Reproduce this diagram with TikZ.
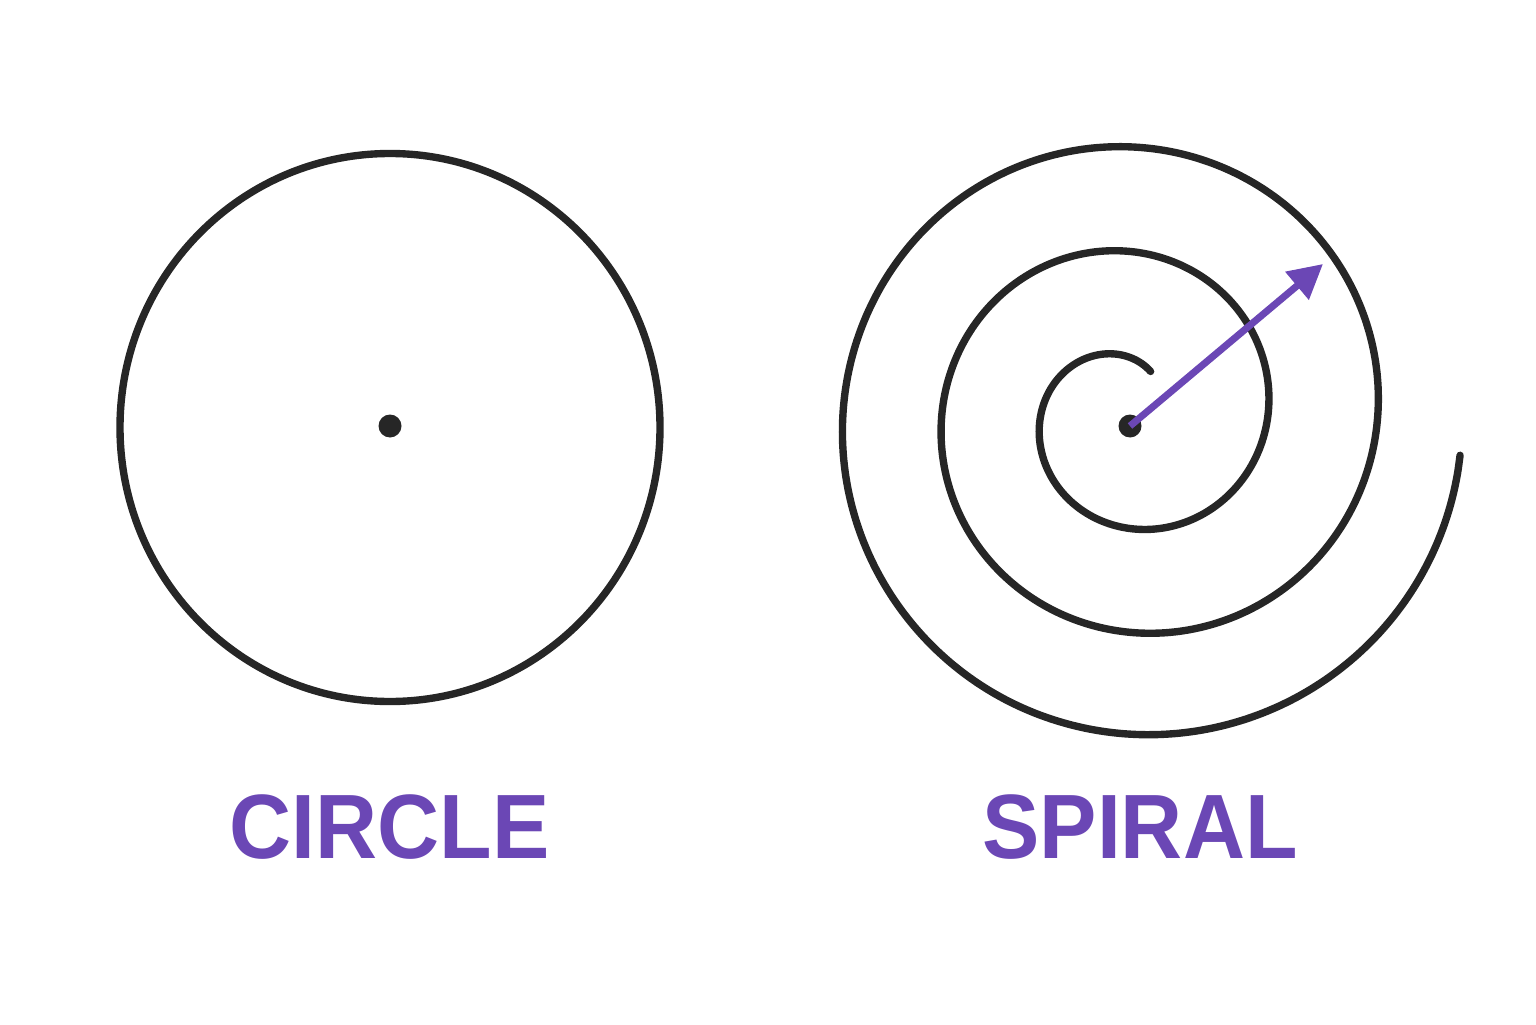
\documentclass[tikz,border=0pt]{standalone}
\usepackage{fontspec}
\setmainfont{Liberation Sans}
\usetikzlibrary{arrows.meta}
\definecolor{ink}{HTML}{262626}
\definecolor{violet}{HTML}{6B47B5}
\tikzset{
curve/.style={draw=ink, line width=2.1pt},
centre/.style={circle, fill=ink, inner sep=0pt, minimum size=2.3mm},
radius arrow/.style={draw=violet, line width=2pt, -{Triangle[length=3.4mm,width=3.5mm]}},
caption/.style={text=violet, font=\fontsize{26}{30}\selectfont\bfseries, inner sep=0pt, xscale=0.94}
}
\begin{document}
\begin{tikzpicture}
  \useasboundingbox (0,0) rectangle (15.36,10.24);
  % circle
  \draw[curve] (3.90,5.965) ellipse [x radius=2.70, y radius=2.74];
  \node[centre] (cdot) at (3.90,5.98) {};
  \node[caption] (circlelabel) at (3.895,1.965) {CIRCLE};
  % spiral (centre drifts a little to the right, growth eases off at the end)
  \draw[curve, line cap=round] plot[domain=60:1073, samples=320, smooth]
    ({11.24+0.00015*\x+(0.34+0.0029*\x-0.152*(max(0,\x-950)/100)^2)*cos(\x)},
     {6.08+(0.34+0.0029*\x-0.152*(max(0,\x-950)/100)^2)*sin(\x)});
  \node[centre] (sdot) at (11.30,5.98) {};
  \coordinate (tip) at (13.23,7.60);
  \draw[radius arrow] (sdot.center) -- (tip);
  \node[caption] (spirallabel) at (11.40,1.965) {SPIRAL};
\end{tikzpicture}
\end{document}
